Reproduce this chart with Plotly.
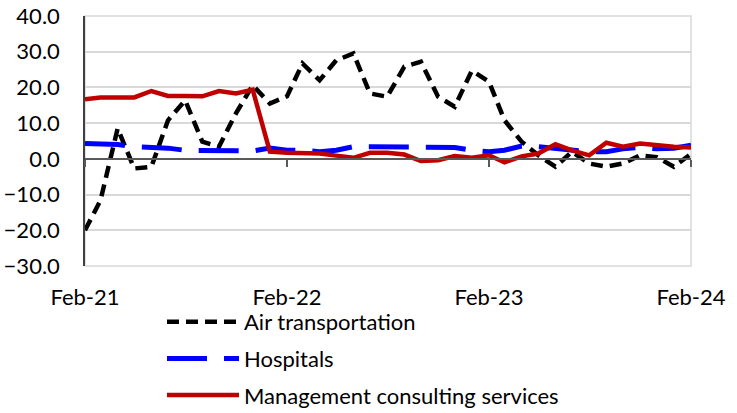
import plotly.graph_objects as go
import pandas as pd

months = pd.date_range("2021-02-01", "2024-02-01", freq="MS")

air_transportation = [-20.0, -11.6, 8.5, -2.7, -2.2, 10.8, 16.4, 4.8, 3.4, 12.8, 20.6, 15.5,
                      17.5, 26.7, 22.0, 27.6, 29.5, 18.3, 17.4, 25.8, 27.2, 17.4, 14.6, 24.7,
                      21.6, 10.8, 4.8, 1.0, -2.2, 2.0, -1.3, -2.2, -1.3, 1.0, 0.5, -2.2, 1.4]
hospitals = [4.3, 4.3, 4.0, 3.4, 3.2, 3.0, 2.4, 2.4, 2.2, 2.2, 2.2, 3.0,
             2.4, 2.4, 2.0, 2.4, 3.4, 3.4, 3.4, 3.4, 3.4, 3.2, 3.2, 2.4,
             2.0, 2.4, 3.6, 3.4, 3.0, 2.4, 2.0, 2.0, 2.8, 3.2, 2.8, 3.0, 3.8]
management_consulting = [16.7, 17.2, 17.2, 17.2, 19.0, 17.6, 17.6, 17.5, 19.0, 18.3, 19.4, 2.0,
                         1.7, 1.7, 1.5, 0.9, 0.3, 1.7, 1.7, 1.2, -0.6, -0.4, 0.8, 0.3,
                         1.0, -1.0, 0.7, 1.5, 4.1, 2.4, 1.0, 4.5, 3.4, 4.3, 3.8, 3.4, 3.2]

tick_dates = ["2021-02-01", "2022-02-01", "2023-02-01", "2024-02-01"]
tick_labels = ["Feb-21", "Feb-22", "Feb-23", "Feb-24"]
y_ticks = [-30, -20, -10, 0, 10, 20, 30, 40]

FONT = "Lato, Carlito, Calibri, sans-serif"
FS = 22

fig = go.Figure()
fig.add_trace(go.Scatter(x=months, y=air_transportation, mode="lines",
                         name="Air transportation", legendgroup="a",
                         line=dict(color="#000000", width=4.5, dash="12px,7px")))
fig.add_trace(go.Scatter(x=months, y=hospitals, mode="lines",
                         name="Hospitals", legendgroup="b",
                         line=dict(color="#0000FF", width=5, dash="40px,17px")))
fig.add_trace(go.Scatter(x=months, y=management_consulting, mode="lines",
                         name="Management consulting services", legendgroup="c",
                         line=dict(color="#C00000", width=4.5)))

rng = [months[0], months[-1]]
fig.update_layout(
    width=737, height=413,
    margin=dict(l=85, r=46, t=16, b=147, autoexpand=False),
    paper_bgcolor="white", plot_bgcolor="white",
    font=dict(family=FONT, size=FS, color="#000000"),
    showlegend=True,
    legend=dict(xref="container", yref="container", x=162 / 737, y=1 - 301 / 413,
                xanchor="left", yanchor="top",
                orientation="v", tracegroupgap=5, itemwidth=72,
                font=dict(family=FONT, size=FS, color="#000000"),
                bgcolor="rgba(0,0,0,0)"),
    xaxis=dict(type="date", range=rng, tickvals=tick_dates, ticktext=tick_labels,
               showgrid=False, zeroline=False, showline=False, automargin=False,
               ticks="outside", ticklen=12, tickcolor="rgba(0,0,0,0)",
               tickfont=dict(family=FONT, size=FS)),
    xaxis2=dict(type="date", range=rng, overlaying="x", anchor="free",
                position=30 / 70, tickvals=tick_dates, showticklabels=False,
                showgrid=False, zeroline=False, showline=True, linecolor="#595959",
                linewidth=1.5, ticks="outside", ticklen=7, tickcolor="#595959", tickwidth=1.5),
    yaxis=dict(range=[-30, 40], tickvals=y_ticks, tickformat=".1f", automargin=False,
               showgrid=True, gridcolor="#D9D9D9", gridwidth=1.5,
               zeroline=False, showline=True, linecolor="#404040", linewidth=1.5,
               ticks="outside", ticklen=19, tickcolor="rgba(0,0,0,0)",
               tickfont=dict(family=FONT, size=FS)),
    shapes=[dict(type="rect", xref="paper", yref="paper", x0=0, x1=1, y0=0, y1=1,
                 line=dict(color="#D9D9D9", width=1.5), layer="below")],
)
# invisible trace to make the zero-line axis render
fig.add_trace(go.Scatter(x=months, y=hospitals, xaxis="x2", mode="lines",
                         line=dict(color="rgba(0,0,0,0)"), showlegend=False, hoverinfo="skip"))

fig.write_html("out.html", config={"displayModeBar": False},
               post_script="document.body.style.margin='0';")
